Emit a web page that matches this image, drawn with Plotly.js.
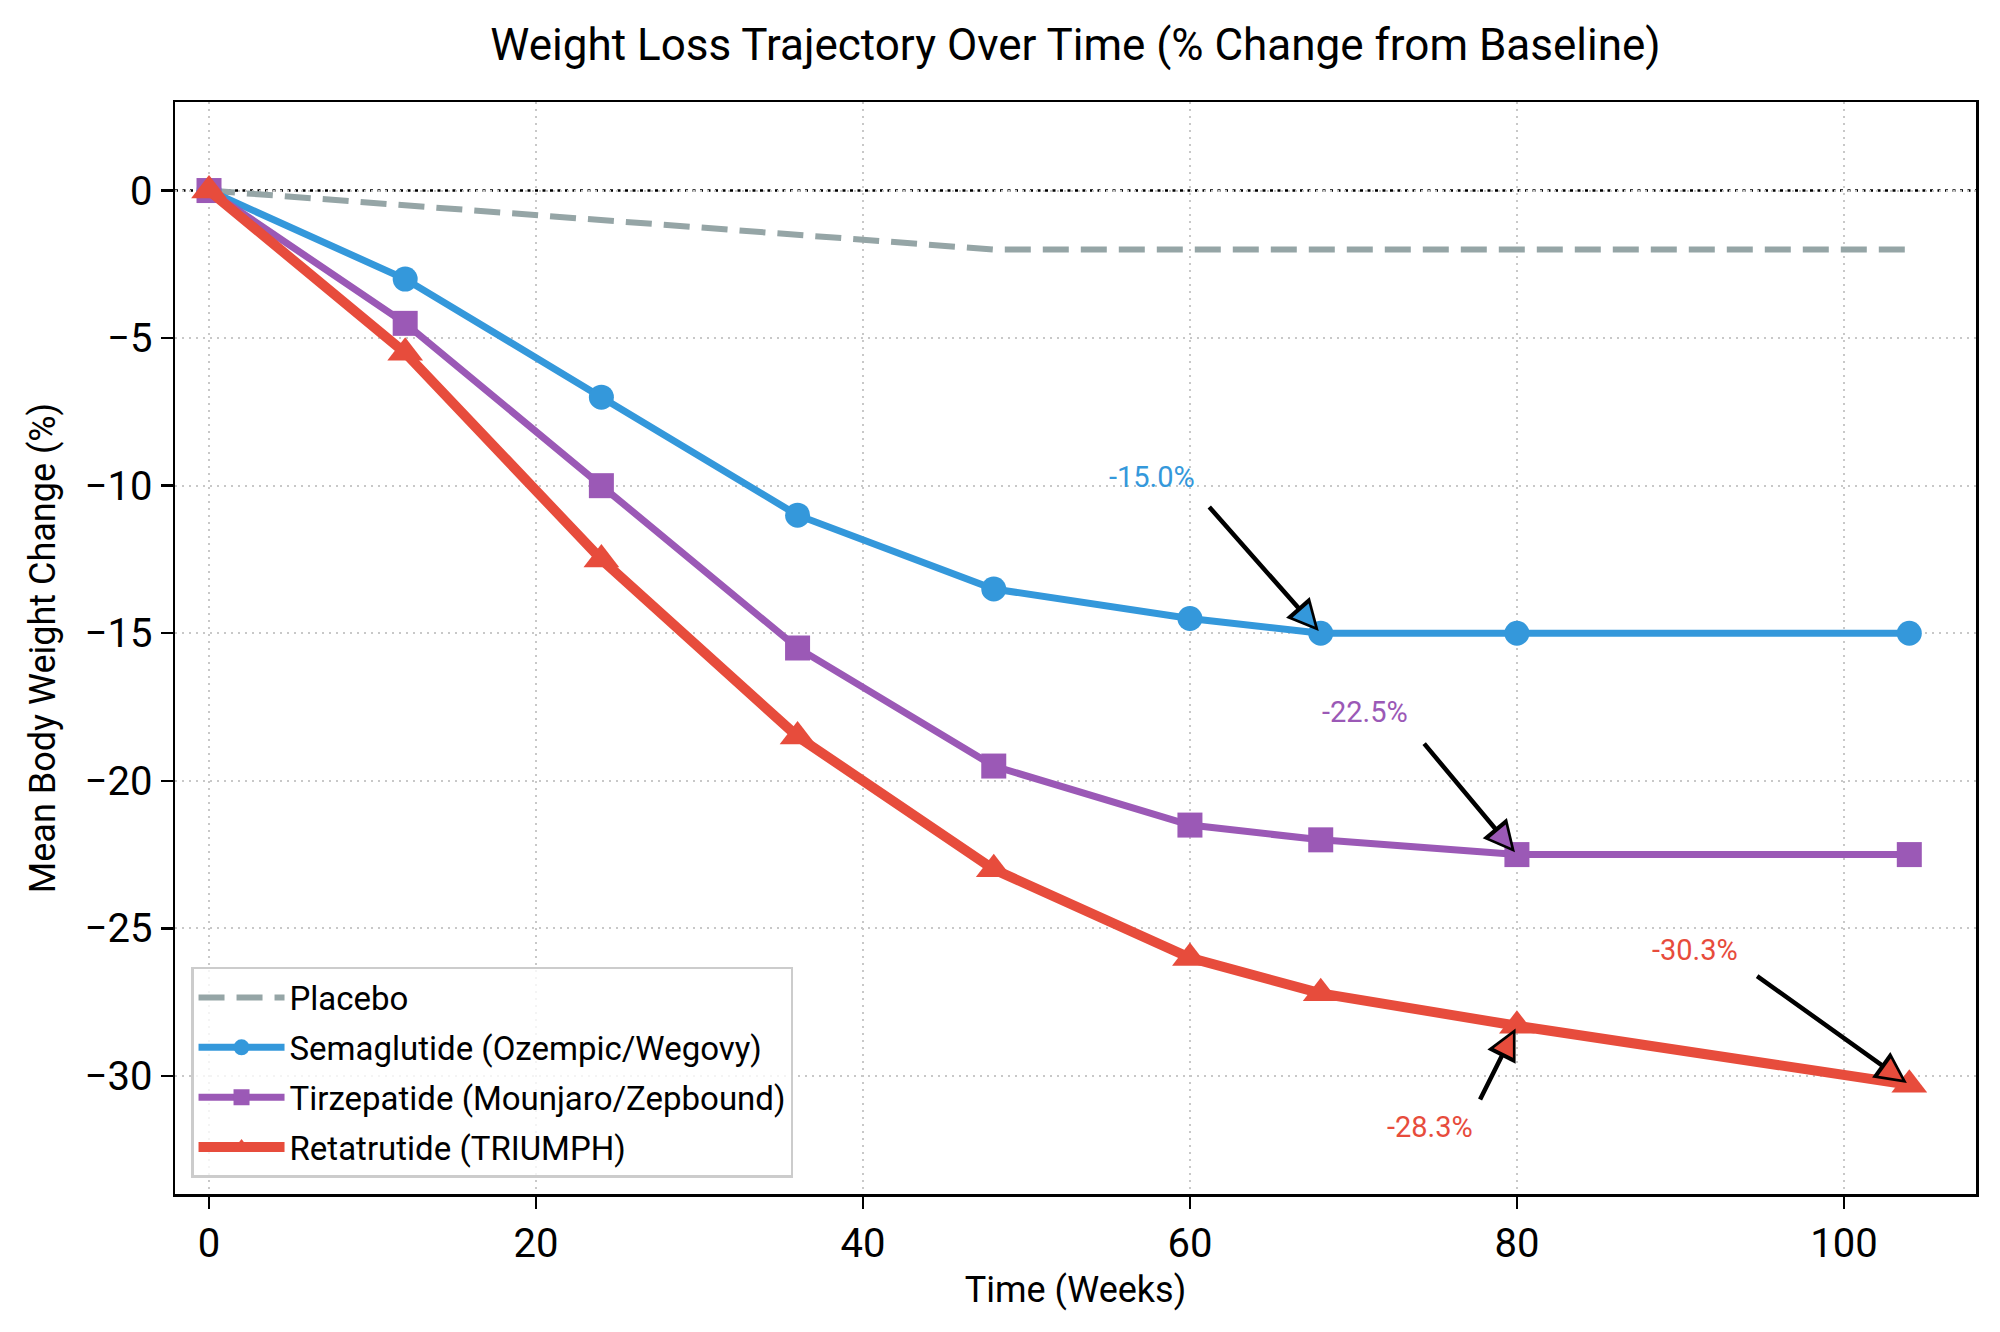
<!DOCTYPE html>
<html>
<head>
<meta charset="utf-8">
<script src="https://cdn.plot.ly/plotly-3.0.1.min.js"></script>
<style>html,body{margin:0;padding:0;background:#fff;}#chart{width:2000px;height:1332px;}</style>
</head>
<body>
<div id="chart"></div>
<script>
// ---- data ----
const weeks = [0, 12, 24, 36, 48, 60, 68, 80, 104];
const placebo = [0, -0.5, -1, -1.5, -2, -2, -2, -2, -2];
const semaglutide = [0, -3, -7, -11, -13.5, -14.5, -15, -15, -15];
const tirzepatide = [0, -4.5, -10, -15.5, -19.5, -21.5, -22, -22.5, -22.5];
const retatrutide = [0, -5.5, -12.5, -18.5, -23, -26, -27.2, -28.3, -30.3];
const seriesNames = ['Placebo', 'Semaglutide (Ozempic/Wegovy)', 'Tirzepatide (Mounjaro/Zepbound)', 'Retatrutide (TRIUMPH)'];

// callouts: which series and week to point at
const calloutSeries = [1, 2, 3, 3];
const calloutWeek = [68, 80, 104, 80];

// ---- styling ----
const colors = ['#95a5a6', '#3498db', '#9b59b6', '#e74c3c'];
const FONT = 'Roboto, "Open Sans", sans-serif';
const seriesVals = [placebo, semaglutide, tirzepatide, retatrutide];
const xRange = [-2.08, 108.08];
const yRange = [-34, 3];
const M = {l: 175, r: 24, t: 102, b: 138};
const W = 2000, H = 1332;

// label/tail placement (layout, relative positions)
const labelPos = [[57.7, -9.72], [70.7, -17.68], [90.9, -25.74], [74.7, -31.73]];
const tailPos = [[61.1, -10.67], [74.25, -18.69], [94.6, -26.58], [77.7, -30.85]];

const traces = [
  {x: weeks, y: placebo, name: seriesNames[0], mode: 'lines', legendgroup: 'g0',
   line: {color: colors[0], width: 6, dash: '26px,12px'}},
  {x: weeks, y: semaglutide, name: seriesNames[1], mode: 'lines+markers', legendgroup: 'g1',
   line: {color: colors[1], width: 7}, marker: {symbol: 'circle', size: 25, color: colors[1]}},
  {x: weeks, y: tirzepatide, name: seriesNames[2], mode: 'lines+markers', legendgroup: 'g2',
   line: {color: colors[2], width: 7}, marker: {symbol: 'square', size: 25, color: colors[2]}},
  {x: weeks, y: retatrutide, name: seriesNames[3], mode: 'lines+markers', legendgroup: 'g3',
   line: {color: colors[3], width: 10}, marker: {symbol: 'triangle-up', size: 31, color: colors[3]}}
];

const plotW = W - M.l - M.r, plotH = H - M.t - M.b;
const sx = plotW / (xRange[1] - xRange[0]);
const sy = plotH / (yRange[1] - yRange[0]);

const annotations = [];
for (let i = 0; i < calloutSeries.length; i++) {
  const s = calloutSeries[i];
  const idx = weeks.indexOf(calloutWeek[i]);
  const hx = weeks[idx], hy = seriesVals[s][idx];
  const col = colors[s];
  // text label
  annotations.push({x: labelPos[i][0], y: labelPos[i][1], xref: 'x', yref: 'y',
    text: hy.toFixed(1) + '%', showarrow: false,
    font: {family: FONT, size: 29, color: col}, xanchor: 'center', yanchor: 'middle'});
  // black arrow
  annotations.push({x: hx, y: hy, xref: 'x', yref: 'y', ax: tailPos[i][0], ay: tailPos[i][1],
    axref: 'x', ayref: 'y', text: '', showarrow: true, arrowhead: 2, arrowsize: 1.4,
    arrowwidth: 4.5, arrowcolor: '#000000', standoff: 3});
  // coloured fill of head
  const dxp = (tailPos[i][0] - hx) * sx;
  const dyp = -(tailPos[i][1] - hy) * sy;
  const len = Math.sqrt(dxp * dxp + dyp * dyp);
  const L = 27;
  annotations.push({x: hx, y: hy, xref: 'x', yref: 'y', ax: dxp / len * L, ay: dyp / len * L,
    text: '', showarrow: true, arrowhead: 2, arrowsize: 0.95, arrowwidth: 4.5,
    arrowcolor: col, standoff: 9});
}

const axisCommon = {
  ticks: 'outside', ticklen: 12, tickwidth: 2.5, tickcolor: '#000',
  showline: true, linewidth: 2.5, linecolor: '#000', mirror: true,
  showgrid: true, gridcolor: '#c8c8c8', gridwidth: 2, griddash: '2px,5px',
  zeroline: false, tickfont: {family: FONT, size: 40, color: '#000'}
};

const layout = {
  width: W, height: H,
  margin: M,
  paper_bgcolor: '#fff', plot_bgcolor: '#fff',
  font: {family: FONT, color: '#000'},
  title: {text: 'Weight Loss Trajectory Over Time (% Change from Baseline)',
    font: {family: FONT, size: 44, color: '#000'},
    x: 0.5, xref: 'paper', y: 1 - 45 / H, yref: 'container', yanchor: 'middle'},
  xaxis: Object.assign({}, axisCommon, {range: xRange, tick0: 0, dtick: 20,
    title: {text: 'Time (Weeks)', font: {family: FONT, size: 36, color: '#000'}, standoff: 12}}),
  yaxis: Object.assign({}, axisCommon, {range: yRange, tick0: 0, dtick: 5,
    title: {text: 'Mean Body Weight Change (%)', font: {family: FONT, size: 36, color: '#000'}, standoff: 18}}),
  legend: {x: 0.0089, y: 0.0147, xanchor: 'left', yanchor: 'bottom',
    bgcolor: 'rgba(255,255,255,0.8)', bordercolor: '#cccccc', borderwidth: 2.5,
    font: {family: FONT, size: 33, color: '#000'}, traceorder: 'grouped', tracegroupgap: 4,
    itemwidth: 86},
  shapes: [{type: 'line', xref: 'paper', x0: 0, x1: 1, yref: 'y', y0: 0, y1: 0,
    line: {color: '#000', width: 2.5, dash: '3px,4.5px'}, layer: 'below'}],
  annotations: annotations,
  showlegend: true
};

Plotly.newPlot('chart', traces, layout, {displayModeBar: false, staticPlot: true});
</script>
</body>
</html>
